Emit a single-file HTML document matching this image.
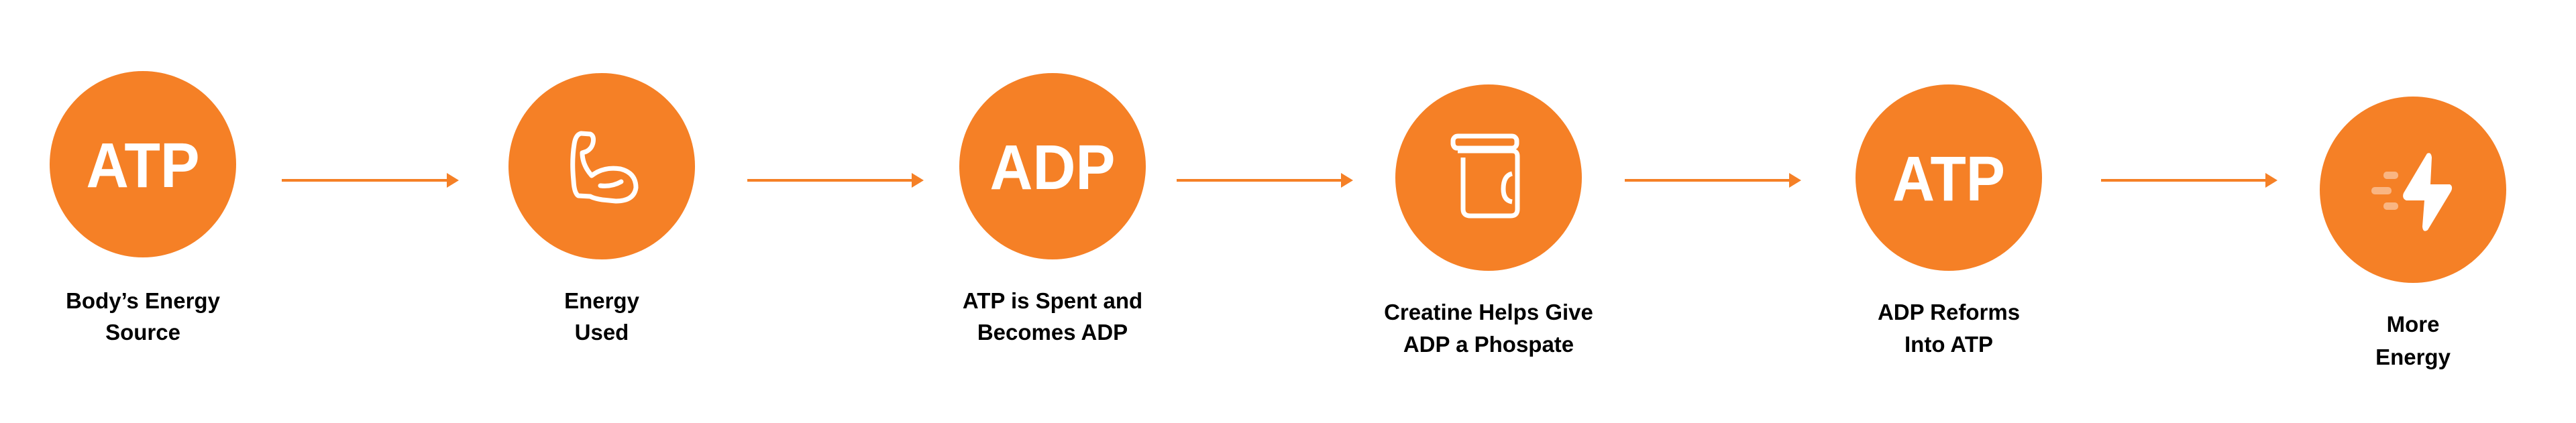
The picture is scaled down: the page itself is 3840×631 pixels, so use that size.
<!DOCTYPE html>
<html><head><meta charset="utf-8"><style>
html,body{margin:0;padding:0;background:#fff;}
svg{display:block}
text{font-family:"Liberation Sans",sans-serif;}
</style></head><body>
<svg width="3840" height="631" viewBox="0 0 3840 631" xmlns="http://www.w3.org/2000/svg">
<g fill="#F58026">
<circle cx="213" cy="245" r="139"/>
<circle cx="897" cy="248" r="139"/>
<circle cx="1569" cy="248" r="139"/>
<circle cx="2219" cy="265" r="139"/>
<circle cx="2905" cy="265" r="139"/>
<circle cx="3597" cy="283" r="139"/>
</g>
<g stroke="#F58026" stroke-width="4">
<line x1="420" y1="269" x2="676" y2="269"/>
<line x1="1114" y1="269" x2="1369" y2="269"/>
<line x1="1754" y1="269" x2="2009" y2="269"/>
<line x1="2422" y1="269" x2="2677" y2="269"/>
<line x1="3132" y1="269" x2="3387" y2="269"/>
</g>
<g fill="#F58026">
<polygon points="666,258 684,269 666,280"/>
<polygon points="1359,258 1377,269 1359,280"/>
<polygon points="1999,258 2017,269 1999,280"/>
<polygon points="2667,258 2685,269 2667,280"/>
<polygon points="3377,258 3395,269 3377,280"/>
</g>
<g fill="#fff" font-weight="bold" font-size="95" text-anchor="middle">
<text x="213" y="279" textLength="169" lengthAdjust="spacingAndGlyphs">ATP</text>
<text x="1569" y="282" textLength="187" lengthAdjust="spacingAndGlyphs">ADP</text>
<text x="2905" y="299" textLength="168" lengthAdjust="spacingAndGlyphs">ATP</text>
</g>
<g fill="none" stroke="#fff" stroke-width="7" stroke-linecap="round" stroke-linejoin="round">
<path d="M866,199 L880,200 Q886,203 884,213 Q882,222 874,226 L868,228 Q868,246 882,262 Q900,248 925,252 Q948,258 948,280 Q945,300 918,300 L898,298 Q885,296 880,293 L862,292 Q856,288 855,270 Q852,240 856,215 Q858,201 866,199 Z"/>
<path d="M895,277 Q912,279 926,271"/>
</g>
<g fill="none" stroke="#fff" stroke-width="7" stroke-linejoin="round">
<rect x="2166" y="203" width="95" height="18" rx="7"/>
<path d="M2172,221 Q2166,221 2166,212 M2181,235 L2181,312 Q2181,322 2192,322 L2252,322 Q2262,322 2262,312 L2262,233 Q2262,225 2254,225 L2173,225"/>
<path d="M2254,259 Q2241,262 2241,282 Q2241,299 2254,301"/>
</g>
<path d="M3618,229 Q3624,226 3625,235 L3623,275 L3652,275 Q3657,278 3654,285 L3619,343 Q3612,348 3611,338 L3614,299 L3587,299 Q3580,296 3583,288 Z" fill="#fff"/>
<g fill="#F9B582">
<rect x="3553" y="256" width="22" height="11" rx="5"/>
<rect x="3535" y="279" width="30" height="11" rx="5"/>
<rect x="3553" y="302" width="22" height="11" rx="5"/>
</g>
<g fill="#000" font-size="33" text-anchor="middle" font-weight="bold">
<text x="213" y="460">Body’s Energy</text>
<text x="213" y="507">Source</text>
<text x="897" y="460">Energy</text>
<text x="897" y="507">Used</text>
<text x="1569" y="460">ATP is Spent and</text>
<text x="1569" y="507">Becomes ADP</text>
<text x="2219" y="477">Creatine Helps Give</text>
<text x="2219" y="525">ADP a Phospate</text>
<text x="2905" y="477">ADP Reforms</text>
<text x="2905" y="525">Into ATP</text>
<text x="3597" y="495">More</text>
<text x="3597" y="544">Energy</text>
</g>
</svg>
</body></html>
